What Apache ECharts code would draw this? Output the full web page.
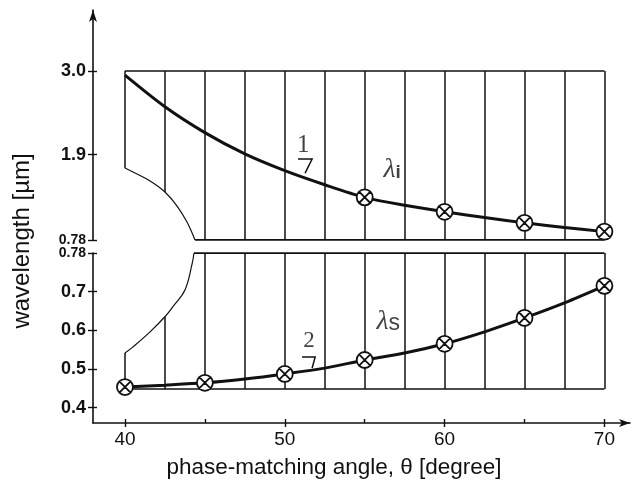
<!DOCTYPE html>
<html lang="en">

<head>
    <meta charset="UTF-8">
    <script src="https://cdn.jsdelivr.net/npm/echarts@6.0.0/dist/echarts.min.js"></script>
    <title>phase matching</title>
    <style>
        body { margin: 0; background: #fff; }
    </style>
</head>

<body>
    <div id="chart" style="width: 634px;height: 493px;"></div>
    <script>
        // curves, sampled every 2.5 degree
        var angles = [40, 42.5, 45, 47.5, 50, 52.5, 55, 57.5, 60, 62.5, 65, 67.5, 70];
        var lambdaI = [2.945, 2.53, 2.19, 1.91, 1.69, 1.505, 1.34, 1.235, 1.15, 1.075, 1.005, 0.945, 0.89];
        var lambdaS = [0.453, 0.458, 0.464, 0.474, 0.487, 0.502, 0.523, 0.541, 0.565, 0.596, 0.632, 0.671, 0.715];
        var markAnglesI = [55, 60, 65, 70];
        var markAnglesS = [40, 45, 50, 55, 60, 65, 70];

        // hatched region (vertical lines at the same angles)
        var topLow = [1.725, 1.41, 0.78, 0.78, 0.78, 0.78, 0.78, 0.78, 0.78, 0.78, 0.78, 0.78, 0.78];
        var bottomHigh = [0.541, 0.635, 0.8, 0.8, 0.8, 0.8, 0.8, 0.8, 0.8, 0.8, 0.8, 0.8, 0.8];
        var regionTop = 3.0;
        var regionBottom = 0.448;
        var topBreak = 0.78;
        var bottomBreak = 0.8;
        var edgeTopX = [40, 40.5, 41.57, 42.5, 43.26, 43.88, 44.38];
        var edgeTopY = [1.725, 1.672, 1.554, 1.41, 1.226, 1.016, 0.78];
        var edgeBotX = [40, 40.5, 41.57, 42.5, 43.0, 43.76, 44.2, 44.32];
        var edgeBotY = [0.541, 0.557, 0.596, 0.635, 0.661, 0.705, 0.772, 0.8];

        // ticks
        var xTicks = [40, 50, 60, 70];
        var xMinorTicks = [40, 45, 50, 55, 60, 65, 70];
        var yTopTicks = [0.78, 1.9, 3.0];
        var yBottomTicks = [0.4, 0.5, 0.6, 0.7, 0.8];

        var ink = '#111';
        var font = 'Liberation Sans, Arial, sans-serif';
        var serif = 'Liberation Serif, DejaVu Serif, serif';
        var cross = 'path://M0,10 A10,10 0 1,0 20,10 A10,10 0 1,0 0,10 Z M2.93,2.93 L17.07,17.07 M17.07,2.93 L2.93,17.07';

        function pairs(xs, ys) {
            return xs.map(function (x, i) { return [x, ys[i]]; });
        }
        function pick(list, values) {
            return list.map(function (a) { return [a, values[angles.indexOf(a)]]; });
        }
        function segs(lowArr, highArr) {
            return angles.map(function (a, i) {
                return { coords: [[a, lowArr[i]], [a, highArr[i]]] };
            });
        }
        function fill(v) {
            return angles.map(function () { return v; });
        }

        var chart = echarts.init(document.getElementById('chart'));

        var yLabel = {
            fontFamily: font,
            fontSize: 18,
            fontWeight: 'bold',
            color: ink,
            margin: 7,
            formatter: function (v) {
                if (Math.abs(v - 0.78) < 1e-6 || Math.abs(v - 0.8) < 1e-6) return '{s|0.78}';
                return v.toFixed(1);
            },
            rich: { s: { fontFamily: font, fontSize: 14, fontWeight: 'bold', color: ink } }
        };

        var option = {
            animation: false,
            grid: [
                { left: 93, right: 4, top: 10, height: 230 },
                { left: 93, right: 4, top: 253, height: 170 }
            ],
            xAxis: [
                { gridIndex: 0, type: 'value', min: 38, max: 71.6, show: false },
                {
                    gridIndex: 1, type: 'value', min: 38, max: 71.6, position: 'bottom',
                    splitLine: { show: false },
                    axisLine: { lineStyle: { color: ink, width: 1.6 }, symbol: ['none', 'arrow'], symbolSize: [6, 11] },
                    axisTick: { customValues: xTicks, length: 4, lineStyle: { color: ink, width: 1.4 } },
                    axisLabel: { customValues: xTicks, fontFamily: font, fontSize: 19, color: ink, margin: 7 }
                },
                {
                    gridIndex: 1, type: 'value', min: 38, max: 71.6, position: 'bottom',
                    splitLine: { show: false },
                    axisLine: { show: false },
                    axisTick: { inside: true, customValues: xMinorTicks, length: 4, lineStyle: { color: ink, width: 1.4 } },
                    axisLabel: { show: false }
                }
            ],
            yAxis: [
                {
                    gridIndex: 0, type: 'value', min: 0.78, max: 3.8, position: 'left',
                    splitLine: { show: false },
                    axisLine: { lineStyle: { color: ink, width: 1.6 }, symbol: ['none', 'arrow'], symbolSize: [6, 12] },
                    axisTick: { customValues: yTopTicks, length: 5, lineStyle: { color: ink, width: 1.4 } },
                    axisLabel: Object.assign({ customValues: yTopTicks }, yLabel)
                },
                {
                    gridIndex: 0, type: 'value', min: 0.78, max: 3.8, position: 'left',
                    splitLine: { show: false },
                    axisLine: { show: false },
                    axisTick: { inside: true, customValues: yTopTicks, length: 4, lineStyle: { color: ink, width: 1.4 } },
                    axisLabel: { show: false }
                },
                {
                    gridIndex: 1, type: 'value', min: 0.36, max: 0.8, position: 'left',
                    splitLine: { show: false },
                    axisLine: { lineStyle: { color: ink, width: 1.6 } },
                    axisTick: { customValues: yBottomTicks, length: 5, lineStyle: { color: ink, width: 1.4 } },
                    axisLabel: Object.assign({ customValues: yBottomTicks }, yLabel)
                },
                {
                    gridIndex: 1, type: 'value', min: 0.36, max: 0.8, position: 'left',
                    splitLine: { show: false },
                    axisLine: { show: false },
                    axisTick: { inside: true, customValues: yBottomTicks, length: 4, lineStyle: { color: ink, width: 1.4 } },
                    axisLabel: { show: false }
                }
            ],
            graphic: [
                {
                    type: 'text', x: 22, y: 241, rotation: Math.PI / 2,
                    style: { text: 'wavelength [µm]', font: '24px ' + font, fill: ink, align: 'center', verticalAlign: 'middle' }
                },
                {
                    type: 'text', x: 334, y: 468,
                    style: { text: 'phase-matching angle, θ [degree]', font: '22.5px ' + font, fill: ink, align: 'center', verticalAlign: 'middle' }
                }
            ],
            series: [
                // top panel hatch
                {
                    type: 'lines', coordinateSystem: 'cartesian2d', xAxisIndex: 0, yAxisIndex: 0, z: 1,
                    lineStyle: { color: ink, width: 1.5, opacity: 1 },
                    data: segs(topLow, fill(regionTop)).concat([
                        { coords: [[40, regionTop], [70, regionTop]] },
                        { coords: [[edgeTopX[edgeTopX.length - 1], topBreak], [70, topBreak]], lineStyle: { width: 2.2 } }
                    ])
                },
                {
                    type: 'line', xAxisIndex: 0, yAxisIndex: 0, z: 1, smooth: 0.4, showSymbol: false,
                    lineStyle: { color: ink, width: 1.2 },
                    data: pairs(edgeTopX, edgeTopY)
                },
                // bottom panel hatch
                {
                    type: 'lines', coordinateSystem: 'cartesian2d', xAxisIndex: 1, yAxisIndex: 2, z: 1,
                    lineStyle: { color: ink, width: 1.5, opacity: 1 },
                    data: segs(fill(regionBottom), bottomHigh).concat([
                        { coords: [[40, regionBottom], [70, regionBottom]] },
                        { coords: [[edgeBotX[edgeBotX.length - 1], bottomBreak], [70, bottomBreak]], lineStyle: { width: 2.2 } }
                    ])
                },
                {
                    type: 'line', xAxisIndex: 1, yAxisIndex: 2, z: 1, smooth: 0.4, showSymbol: false,
                    lineStyle: { color: ink, width: 1.2 },
                    data: pairs(edgeBotX, edgeBotY)
                },
                // idler and signal curves
                {
                    type: 'line', xAxisIndex: 0, yAxisIndex: 0, z: 3, smooth: 0.3, showSymbol: false,
                    lineStyle: { color: ink, width: 3 },
                    data: pairs(angles, lambdaI)
                },
                {
                    type: 'line', xAxisIndex: 1, yAxisIndex: 2, z: 3, smooth: 0.3, showSymbol: false,
                    lineStyle: { color: ink, width: 3 },
                    data: pairs(angles, lambdaS)
                },
                {
                    type: 'scatter', xAxisIndex: 0, yAxisIndex: 0, z: 5,
                    symbol: cross, symbolSize: 16,
                    itemStyle: { color: '#fff', borderColor: ink, borderWidth: 1.8, opacity: 1 },
                    data: pick(markAnglesI, lambdaI)
                },
                {
                    type: 'scatter', xAxisIndex: 1, yAxisIndex: 2, z: 5,
                    symbol: cross, symbolSize: 16,
                    itemStyle: { color: '#fff', borderColor: ink, borderWidth: 1.8, opacity: 1 },
                    data: pick(markAnglesS, lambdaS)
                },
                // curve labels and leaders
                {
                    type: 'lines', coordinateSystem: 'cartesian2d', xAxisIndex: 0, yAxisIndex: 0, polyline: true, z: 4,
                    lineStyle: { color: ink, width: 1.5, opacity: 1 },
                    data: [{ coords: [[50.83, 1.843], [51.71, 1.843], [51.27, 1.659]] }]
                },
                {
                    type: 'lines', coordinateSystem: 'cartesian2d', xAxisIndex: 1, yAxisIndex: 2, polyline: true, z: 4,
                    lineStyle: { color: ink, width: 1.5, opacity: 1 },
                    data: [{ coords: [[51.08, 0.531], [51.9, 0.531], [51.71, 0.502]] }]
                },
                {
                    type: 'scatter', xAxisIndex: 0, yAxisIndex: 0, z: 6, symbolSize: 0,
                    label: {
                        show: true, position: 'inside', color: ink,
                        formatter: '{b}',
                        rich: {
                            n: { fontFamily: serif, fontSize: 25, color: ink },
                            l: { fontFamily: serif, fontSize: 28, fontStyle: 'italic', color: ink },
                            s: { fontFamily: font, fontSize: 19, fontWeight: 'bold', color: ink, padding: [6, 0, 0, 0] }
                        }
                    },
                    data: [
                        { name: '{n|1}', value: [51.15, 2.02] },
                        { name: '{l|λ}{s|i}', value: [56.72, 1.70] }
                    ]
                },
                {
                    type: 'scatter', xAxisIndex: 1, yAxisIndex: 2, z: 6, symbolSize: 0,
                    label: {
                        show: true, position: 'inside', color: ink,
                        formatter: '{b}',
                        rich: {
                            n: { fontFamily: serif, fontSize: 23, color: ink },
                            l: { fontFamily: serif, fontSize: 28, fontStyle: 'italic', color: ink },
                            s: { fontFamily: font, fontSize: 23, color: ink, padding: [4, 0, 0, 0] }
                        }
                    },
                    data: [
                        { name: '{n|2}', value: [51.52, 0.572] },
                        { name: '{l|λ}{s|s}', value: [56.47, 0.622] }
                    ]
                }
            ]
        };

        chart.setOption(option);
    </script>
</body>

</html>
